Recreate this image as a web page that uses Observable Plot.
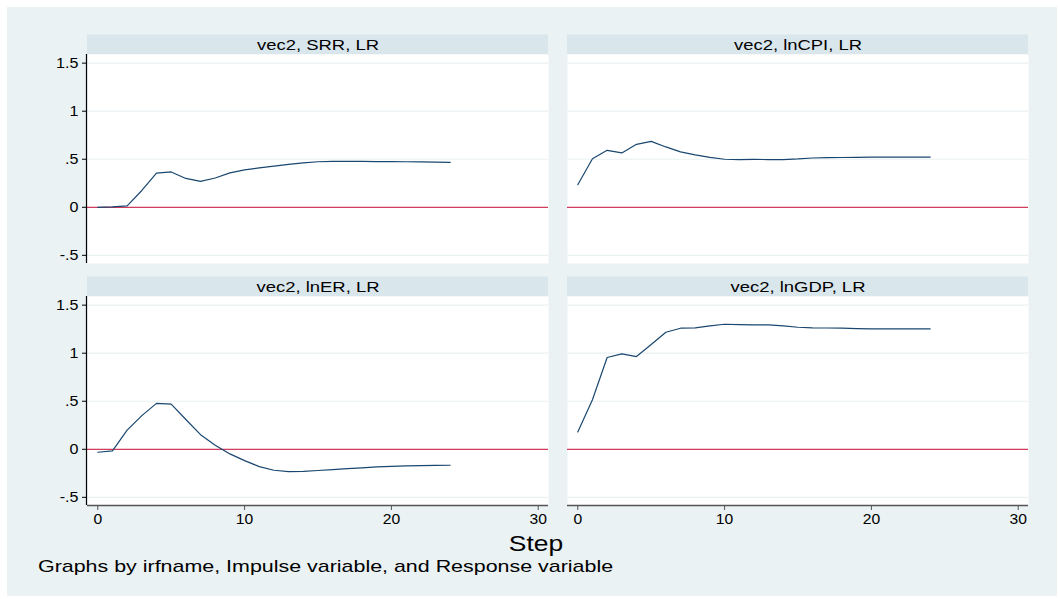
<!DOCTYPE html>
<html>
<head>
<meta charset="utf-8">
<script src="https://cdn.jsdelivr.net/npm/d3@7"></script>
<script src="https://cdn.jsdelivr.net/npm/@observablehq/plot@0.6"></script>
<style>
  html, body { margin: 0; padding: 0; background: #ffffff; }
  #wrap { position: relative; width: 1058px; height: 599px; overflow: hidden; font-family: "Liberation Sans", Arial, sans-serif; }
  #bg { position: absolute; left: 7px; top: 7px; width: 1050px; height: 589px; background: #eaf2f3; }
  #chart { position: absolute; left: 0; top: 0; }
  #xlabel { position: absolute; left: 436px; width: 200px; top: 531px; text-align: center; font-size: 22px; color: #000; transform: scaleX(1.2); transform-origin: 50% 50%; }
  #caption { position: absolute; left: 38px; top: 557px; font-size: 17px; color: #000; white-space: nowrap; transform: scaleX(1.26); transform-origin: 0 50%; }
</style>
</head>
<body>
<div id="wrap">
  <div id="bg"></div>
  <div id="chart"></div>
  <div id="xlabel">Step</div>
  <div id="caption">Graphs by irfname, Impulse variable, and Response variable</div>
</div>
<script>
// ---- data ----
const steps = [0,1,2,3,4,5,6,7,8,9,10,11,12,13,14,15,16,17,18,19,20,21,22,23,24];
const panelLabels = ["vec2, SRR, LR", "vec2, lnCPI, LR", "vec2, lnER, LR", "vec2, lnGDP, LR"];
const srr   = [0.000, 0.005, 0.015, 0.175, 0.355, 0.368, 0.300, 0.270, 0.305, 0.358, 0.390, 0.410, 0.428, 0.446, 0.462, 0.474, 0.478, 0.478, 0.477, 0.476, 0.476, 0.474, 0.472, 0.470, 0.467];
const lncpi = [0.235, 0.505, 0.593, 0.566, 0.655, 0.686, 0.628, 0.576, 0.545, 0.520, 0.500, 0.497, 0.498, 0.497, 0.497, 0.503, 0.513, 0.516, 0.518, 0.520, 0.521, 0.522, 0.522, 0.522, 0.521];
const lner  = [-0.031, -0.017, 0.200, 0.350, 0.478, 0.470, 0.310, 0.152, 0.042, -0.048, -0.118, -0.180, -0.218, -0.232, -0.229, -0.221, -0.211, -0.201, -0.193, -0.184, -0.177, -0.173, -0.170, -0.168, -0.166];
const lngdp = [0.180, 0.516, 0.955, 0.993, 0.965, 1.090, 1.218, 1.260, 1.263, 1.284, 1.301, 1.298, 1.294, 1.294, 1.284, 1.270, 1.263, 1.262, 1.260, 1.256, 1.254, 1.254, 1.254, 1.254, 1.253];
const xTicks = [0, 10, 20, 30];
const yTicks = [-0.5, 0, 0.5, 1, 1.5];
const xDomain = [-0.7, 30.7];
const yDomain = [-0.585, 1.59];

// ---- tables built from the arrays ----
const seriesList = [srr, lncpi, lner, lngdp];
const panels = panelLabels.map((label, i) => ({label, col: i % 2, row: Math.floor(i / 2)}));
const rows = [];
panels.forEach((p, i) => {
  steps.forEach((s, j) => rows.push({step: s, value: seriesList[i][j], label: p.label, col: p.col, row: p.row}));
});
const leftPanels = panels.filter(p => p.col === 0);
const bottomPanels = panels.filter(p => p.row === 1);

const fmt = d => d === 0 ? "0" : String(d).replace(/^(-?)0\./, "$1.");
const stripH = 19.5;
const font = "'Liberation Sans', Arial, sans-serif";

const chart = Plot.plot({
  width: 1058,
  height: 540,
  marginLeft: 87,
  marginRight: 29,
  marginTop: 54,
  marginBottom: 34,
  style: {background: "transparent", fontFamily: font, fontSize: "14px", color: "#000"},
  x: {domain: xDomain},
  y: {domain: yDomain},
  fx: {domain: [0, 1], axis: null, paddingInner: 0.0395, paddingOuter: 0},
  fy: {domain: [0, 1], axis: null, paddingInner: 0.136, paddingOuter: 0},
  marks: [
    Plot.frame({fill: "#ffffff", stroke: null}),
    Plot.gridY(yTicks, {stroke: "#eaf2f3", strokeOpacity: 1, strokeWidth: 1.2}),
    Plot.rect(panels, {
      x1: () => xDomain[0], x2: () => xDomain[1],
      y1: () => yDomain[1], y2: () => yDomain[1],
      fx: "col", fy: "row", fill: "#d9e6eb", insetTop: -stripH
    }),
    Plot.text(panels, {fx: "col", fy: "row", text: "label", frameAnchor: "top", lineAnchor: "middle", dy: -stripH / 2, fontSize: 15, fill: "#000"}),
    Plot.ruleY([0], {stroke: "#d23c5e", strokeWidth: 1.3}),
    Plot.line(rows, {x: "step", y: "value", fx: "col", fy: "row", stroke: "#1a476f", strokeWidth: 1.2}),
    Plot.ruleX(leftPanels, {x: () => xDomain[0], fx: "col", fy: "row", stroke: "#000", strokeWidth: 1.2, dx: -1}),
    Plot.ruleY(bottomPanels, {y: () => yDomain[0], fx: "col", fy: "row", stroke: "#555", strokeWidth: 1.5}),
    Plot.axisY(yTicks, {tickFormat: fmt, tickSize: 5, tickPadding: 4, fontSize: 14, label: null, stroke: "#000"}),
    Plot.axisX(xTicks, {tickSize: 5, tickPadding: 4, fontSize: 14, label: null, stroke: "#555"})
  ]
});
document.getElementById("chart").appendChild(chart);

// widen glyphs horizontally about each label's anchor (the reference's lettering is horizontally stretched)
function stretch(selector, s) {
  chart.querySelectorAll(selector).forEach(el => {
    const t = el.getAttribute("transform") || "";
    el.setAttribute("transform", `${t} scale(${s},1)`);
  });
}
stretch('g[aria-label="text"] text', 1.23);
stretch('g[aria-label="y-axis tick label"] text', 1.15);
stretch('g[aria-label="x-axis tick label"] text', 1.12);
</script>
</body>
</html>
